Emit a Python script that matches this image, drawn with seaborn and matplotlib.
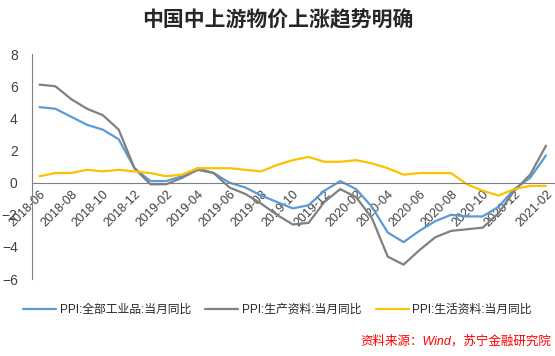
import pandas as pd
import matplotlib.pyplot as plt
import numpy as np
import seaborn as sns
from matplotlib.ticker import FixedLocator

months = ['2018-06', '2018-07', '2018-08', '2018-09', '2018-10', '2018-11', '2018-12',
          '2019-01', '2019-02', '2019-03', '2019-04', '2019-05', '2019-06', '2019-07',
          '2019-08', '2019-09', '2019-10', '2019-11', '2019-12', '2020-01', '2020-02',
          '2020-03', '2020-04', '2020-05', '2020-06', '2020-07', '2020-08', '2020-09',
          '2020-10', '2020-11', '2020-12', '2021-01', '2021-02']

ppi_all = [4.7, 4.6, 4.1, 3.6, 3.3, 2.7, 0.9, 0.1, 0.1, 0.4, 0.9, 0.6, 0.0, -0.3,
           -0.8, -1.2, -1.6, -1.4, -0.5, 0.1, -0.4, -1.5, -3.1, -3.7, -3.0, -2.4,
           -2.0, -2.1, -2.1, -1.5, -0.4, 0.3, 1.7]
ppi_producer = [6.1, 6.0, 5.2, 4.6, 4.2, 3.3, 0.9, -0.1, -0.1, 0.3, 0.8, 0.6, -0.3, -0.7,
                -1.3, -2.0, -2.6, -2.5, -1.2, -0.4, -0.9, -2.2, -4.6, -5.1, -4.2, -3.4,
                -3.0, -2.9, -2.8, -1.9, -0.5, 0.5, 2.3]
ppi_consumer = [0.4, 0.6, 0.6, 0.8, 0.7, 0.8, 0.7, 0.6, 0.4, 0.5, 0.9, 0.9, 0.9, 0.8,
                0.7, 1.1, 1.4, 1.6, 1.3, 1.3, 1.4, 1.2, 0.9, 0.5, 0.6, 0.6,
                0.6, -0.1, -0.5, -0.8, -0.4, -0.2, -0.2]

names = ['PPI:全部工业品:当月同比', 'PPI:生产资料:当月同比', 'PPI:生活资料:当月同比']
colors = ['#5B9BD5', '#808080', '#FFC000']

data = pd.DataFrame({'idx': list(range(len(months))) * 3,
                     'value': ppi_all + ppi_producer + ppi_consumer,
                     'series': [names[0]] * len(months) + [names[1]] * len(months) + [names[2]] * len(months)})

sns.set_style('white')
plt.rcParams['font.family'] = ['Liberation Sans', 'Noto Sans CJK SC', 'DejaVu Sans']

fig = plt.figure(figsize=(5.55, 3.56), dpi=100)
ax = fig.add_axes([0.057, 0.216, 0.941, 0.632])
sns.lineplot(data=data, x='idx', y='value', hue='series', palette=colors, linewidth=1.6, ax=ax, legend=False)

# spine position first, it resets the ticks
for s in ['top', 'right']:
    ax.spines[s].set_visible(False)
ax.spines['bottom'].set_position(('data', 0))
ax.spines['bottom'].set_color('#808080')
ax.spines['left'].set_color('#808080')

ax.set_xlim(-0.5, len(months) - 0.5)
ax.set_ylim(-6, 8)
ax.set_yticks(range(-6, 9, 2))
ax.set_xticks(range(0, len(months), 2))
ax.set_xticklabels(months[::2], rotation=45, ha='right', va='top', rotation_mode='anchor',
                   fontsize=9, color='#404040')
ax.xaxis.set_minor_locator(FixedLocator(np.arange(1.5, len(months), 2)))
ax.tick_params(axis='x', which='major', length=0, pad=4)
ax.tick_params(axis='x', which='minor', length=4, color='#808080', direction='out')
ax.tick_params(axis='y', length=4, color='#808080', labelsize=10, labelcolor='#404040', pad=6)
ax.set_xlabel('')
ax.set_ylabel('')

fig.text(0.5, 0.945, '中国中上游物价上涨趋势明确', ha='center', va='center', fontsize=15,
         fontweight='bold', family=['Noto Sans CJK SC'])

handles = [plt.Line2D([], [], color=c, lw=1.6) for c in colors]
fig.legend(handles, names, loc='center', bbox_to_anchor=(0.5, 0.13), ncol=3, frameon=False,
           fontsize=8.5, handlelength=2.8, columnspacing=1.2, handletextpad=0.3)

fig.text(0.993, 0.04, '资料来源：Wind，苏宁金融研究院', ha='right', va='center', fontsize=9,
         color='#FF0000', style='italic')

fig.savefig('out.png', dpi=100)
